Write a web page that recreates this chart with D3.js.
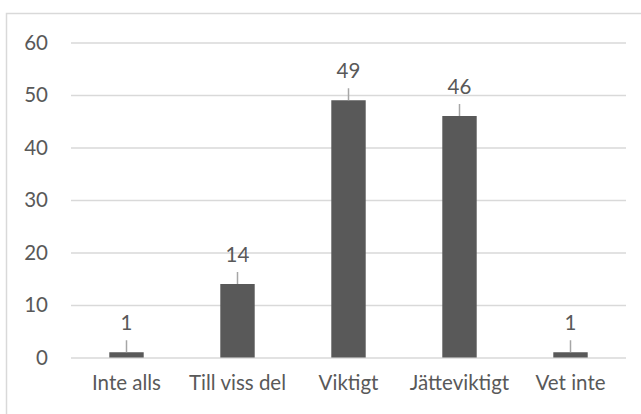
<!DOCTYPE html>
<html>
<head>
<meta charset="utf-8">
<script src="https://cdn.jsdelivr.net/npm/d3@7"></script>
<style>
  html, body { margin: 0; padding: 0; background: #fff; }
  svg text { font-family: Lato, "Open Sans", sans-serif; fill: #595959; }
</style>
</head>
<body>
<svg id="chart" width="641" height="414"></svg>
<script>
const categories = ["Inte alls", "Till viss del", "Viktigt", "Jätteviktigt", "Vet inte"];
const values = [1, 14, 49, 46, 1];
const y_ticks = [0, 10, 20, 30, 40, 50, 60];

const width = 641, height = 414;
const margin = {left: 71, right: 15, top: 42.5, bottom: 56.5};
const w = width - margin.left - margin.right;
const h = height - margin.top - margin.bottom;
const bar_color = "#595959";
const grid_color = "#d9d9d9";
const font_size = 20.5;

const svg = d3.select("#chart");

// outer chart border (runs past the right and bottom edges)
svg.append("rect")
  .attr("x", 6.5).attr("y", 13.5)
  .attr("width", 700).attr("height", 500)
  .attr("fill", "none")
  .attr("stroke", grid_color)
  .attr("stroke-width", 1.5);

const g = svg.append("g")
  .attr("transform", `translate(${margin.left}, ${margin.top})`);

const x = d3.scaleBand()
  .domain(categories)
  .range([0, w])
  .paddingInner(0.69)
  .paddingOuter(0.345);

const y = d3.scaleLinear()
  .domain([0, 60])
  .range([h, 0]);

// gridlines + y labels
g.append("g")
  .call(d3.axisLeft(y).tickValues(y_ticks).tickSize(-w).tickPadding(23))
  .call(remove_domain)
  .call(ax => ax.selectAll(".tick line").attr("stroke", grid_color).attr("stroke-width", 1.5))
  .call(ax => ax.selectAll(".tick text")
    .attr("fill", "#595959")
    .style("font-size", font_size + "px")
    .style("font-family", null));

// bars
g.selectAll("rect.bar")
  .data(values)
  .enter().append("rect")
  .attr("class", "bar")
  .attr("x", (d, i) => x(categories[i]))
  .attr("y", d => y(d))
  .attr("width", x.bandwidth())
  .attr("height", d => h - y(d))
  .attr("fill", bar_color);

// leader lines
g.selectAll("line.leader")
  .data(values)
  .enter().append("line")
  .attr("class", "leader")
  .attr("x1", (d, i) => x(categories[i]) + x.bandwidth() / 2)
  .attr("x2", (d, i) => x(categories[i]) + x.bandwidth() / 2)
  .attr("y1", d => y(d))
  .attr("y2", d => y(d) - 12)
  .attr("stroke", "#a6a6a6")
  .attr("stroke-width", 1.5);

// value labels
g.selectAll("text.value")
  .data(values)
  .enter().append("text")
  .attr("class", "value")
  .attr("x", (d, i) => x(categories[i]) + x.bandwidth() / 2)
  .attr("y", d => y(d) - 22.5)
  .attr("text-anchor", "middle")
  .style("font-size", font_size + "px")
  .text(d => d);

// x axis labels
g.append("g")
  .attr("transform", `translate(0, ${h})`)
  .call(d3.axisBottom(x).tickSize(0).tickPadding(18))
  .call(remove_domain)
  .call(ax => ax.selectAll(".tick text")
    .attr("fill", "#595959")
    .style("font-size", font_size + "px")
    .style("font-family", null));

function remove_domain(els) {
  els.selectAll(".domain").remove();
}
</script>
</body>
</html>
